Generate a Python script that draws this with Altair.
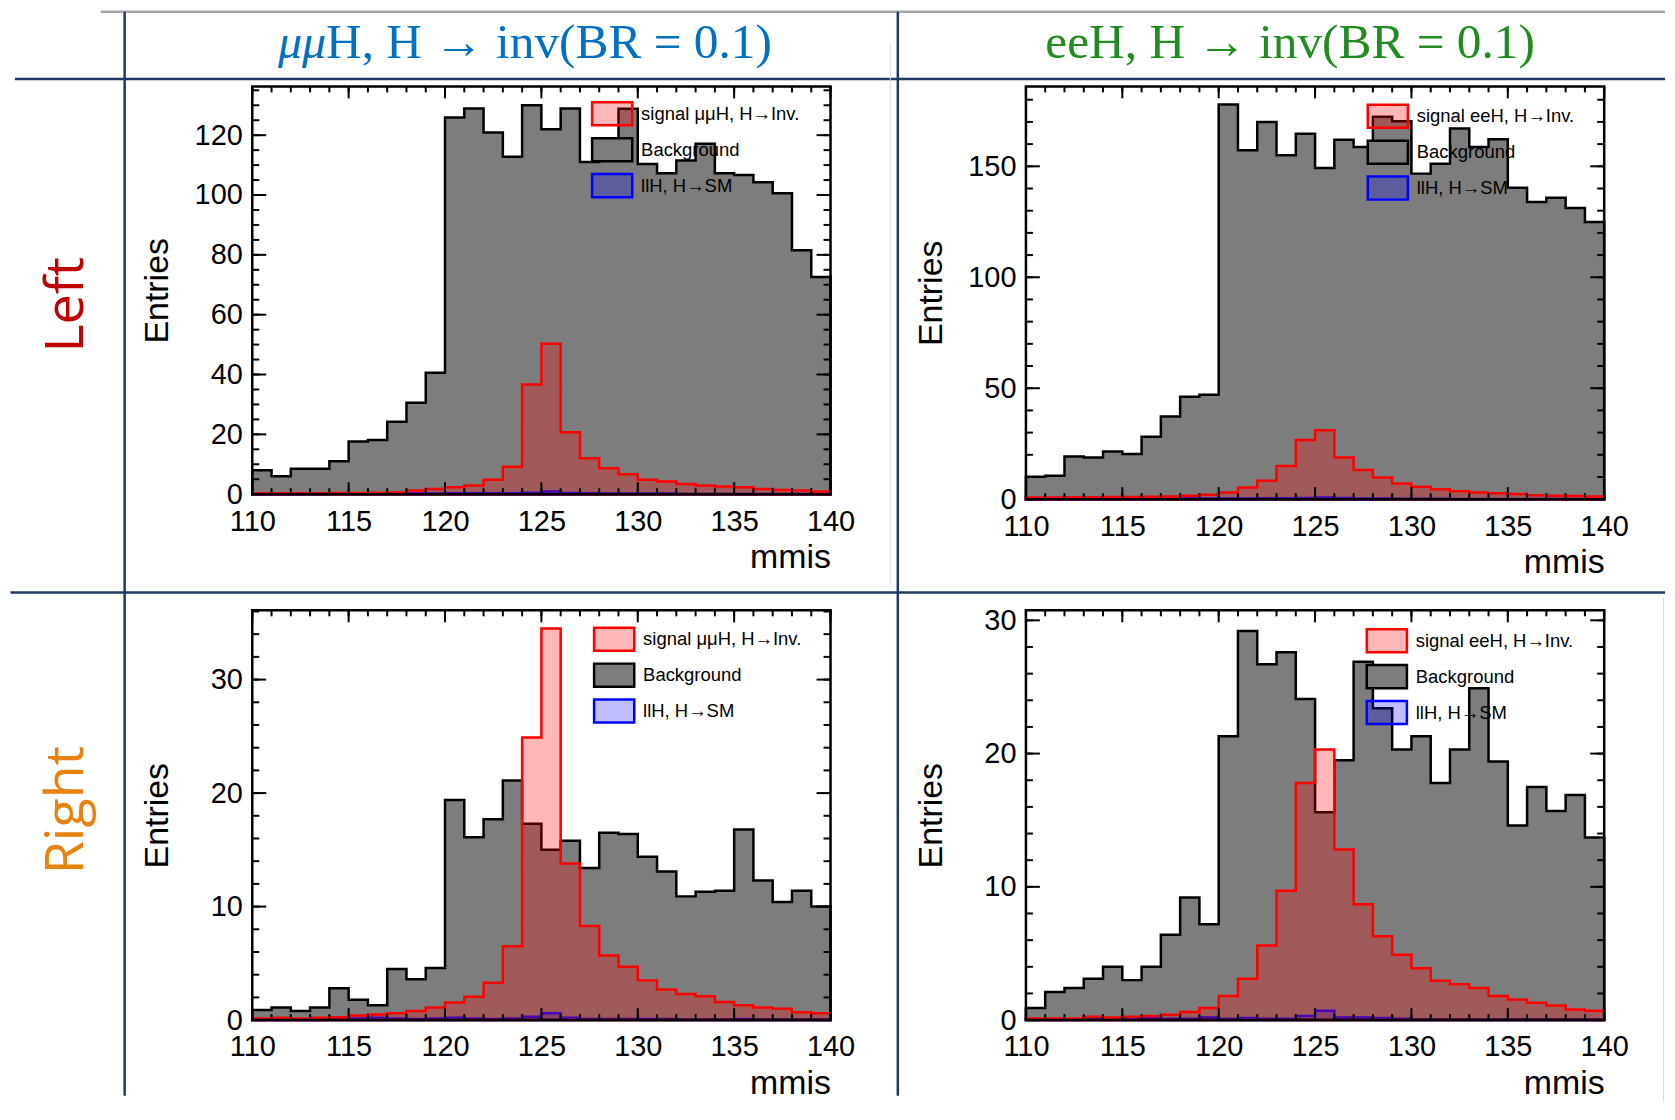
import altair as alt
import pandas as pd

# ---------------- data ----------------
edges = list(range(110, 141))           # 30 bins of 1 GeV, 31 edges
x_major = [110, 115, 120, 125, 130, 135, 140]
x_minor = list(range(110, 141))

LAB_BG = "Background"
LAB_LLH = "llH, H→SM"
LAB_SIG_MM = "signal μμH, H→Inv."
LAB_SIG_EE = "signal eeH, H→Inv."

# mumuH, Left
bg_mm_left = [8, 6, 8.5, 8.5, 11, 17.6, 18.1, 24.2, 30.6, 40.6,
              125.9, 128.9, 120.9, 112.8, 130, 122, 128.9, 111, 118.8, 128.8,
              110.4, 107.3, 111.5, 117.1, 107.3, 106.7, 104.3, 100.6, 81.5, 72.6]
sig_mm_left = [0.3, 0.3, 0.3, 0.3, 0.4, 0.4, 0.5, 0.6, 1.2, 1.7,
               2.3, 2.9, 4.8, 9.2, 36.7, 50.3, 20.7, 12.0, 8.7, 6.7,
               4.8, 4.2, 3.4, 2.9, 2.6, 2.3, 1.7, 1.4, 1.2, 0.9]
llh_mm_left = [0.1, 0.1, 0.1, 0.1, 0.1, 0.1, 0.1, 0.2, 0.2, 0.2,
               0.3, 0.3, 0.3, 0.3, 0.5, 0.9, 0.4, 0.3, 0.2, 0.2,
               0.2, 0.2, 0.1, 0.1, 0.1, 0.1, 0.1, 0.1, 0.1, 0.1]

# eeH, Left
bg_ee_left = [10.1, 10.5, 19.2, 18.8, 21.5, 20.4, 28.1, 37.2, 46.1, 47.1,
              177.8, 157.2, 170, 155, 164.7, 149.2, 162, 158.7, 172.3, 170.3,
              146.7, 151.2, 167, 158.7, 162.2, 140.3, 133.9, 135.8, 131.2, 124.9]
sig_ee_left = [0.8, 0.8, 0.9, 0.9, 1.0, 1.0, 1.1, 1.2, 1.5, 2.0,
               3.0, 5.3, 8.3, 15.0, 26.7, 31.1, 18.8, 13.1, 9.8, 7.1,
               5.6, 4.5, 3.6, 3.0, 2.7, 2.3, 1.8, 1.5, 1.4, 1.2]
llh_ee_left = [0.1, 0.1, 0.1, 0.1, 0.1, 0.2, 0.2, 0.2, 0.3, 0.3,
               0.3, 0.3, 0.4, 0.4, 0.5, 0.8, 0.5, 0.3, 0.3, 0.2,
               0.2, 0.2, 0.1, 0.1, 0.1, 0.1, 0.1, 0.1, 0.1, 0.1]

# mumuH, Right
bg_mm_right = [0.9, 1.1, 0.8, 1.1, 2.8, 1.8, 1.3, 4.5, 3.6, 4.6,
               19.4, 16.1, 17.7, 21.1, 17.3, 15.0, 15.8, 13.4, 16.5, 16.4,
               14.4, 13.1, 10.9, 11.3, 11.4, 16.8, 12.3, 10.4, 11.4, 10.0]
sig_mm_right = [0.15, 0.2, 0.15, 0.2, 0.25, 0.4, 0.5, 0.6, 0.8, 1.1,
                1.55, 2.05, 3.3, 6.5, 24.9, 34.5, 13.8, 8.3, 5.7, 4.7,
                3.5, 2.7, 2.3, 2.1, 1.6, 1.3, 1.1, 1.0, 0.7, 0.6]
llh_mm_right = [0.05, 0.05, 0.05, 0.1, 0.1, 0.15, 0.2, 0.15, 0.1, 0.15,
                0.2, 0.15, 0.1, 0.15, 0.3, 0.6, 0.2, 0.1, 0.1, 0.1,
                0.1, 0.1, 0.05, 0.05, 0.05, 0.1, 0.05, 0.05, 0.05, 0.05]

# eeH, Right
bg_ee_right = [0.9, 2.1, 2.4, 3.1, 4.0, 3.0, 4.0, 6.4, 9.2, 7.2,
               21.3, 29.2, 26.7, 27.6, 24.1, 15.6, 19.5, 26.9, 23.4, 20.3,
               21.3, 17.8, 20.3, 24.9, 19.4, 14.6, 17.5, 15.7, 16.9, 13.7]
sig_ee_right = [0.12, 0.12, 0.12, 0.25, 0.2, 0.25, 0.3, 0.4, 0.6, 0.9,
                1.8, 3.1, 5.6, 9.7, 17.8, 20.3, 12.8, 8.7, 6.3, 4.9,
                3.9, 2.95, 2.7, 2.4, 1.8, 1.55, 1.3, 1.1, 0.8, 0.7]
llh_ee_right = [0.05, 0.05, 0.05, 0.1, 0.1, 0.1, 0.15, 0.1, 0.1, 0.2,
                0.1, 0.15, 0.1, 0.1, 0.3, 0.7, 0.2, 0.2, 0.15, 0.1,
                0.05, 0.05, 0.05, 0.05, 0.05, 0.05, 0.05, 0.05, 0.05, 0.05]

# y-axis ticks per panel
y_major_a = [0, 20, 40, 60, 80, 100, 120]
y_minor_a = list(range(0, 136, 5))
y_major_b = [0, 50, 100, 150]
y_minor_b = list(range(0, 181, 10))
y_major_c = [0, 10, 20, 30]
y_minor_c = list(range(0, 37, 2))
y_major_d = [0, 10, 20, 30]
y_minor_d = list(range(0, 31, 2))

# ---------------- style ----------------
SANS = "Liberation Sans"
SERIF = "Liberation Serif"
NAVY = "#1F3864"
SYMBOL = "M-1.15,-0.66H1.15V0.66H-1.15Z"

deco = pd.DataFrame({"k": [0]})


def hist_frame(vals, label):
    return pd.DataFrame({"x": edges, "v": list(vals) + [vals[-1]], "s": label})


def panel(bg, sig, llh, sig_label, ymax, y_major, y_minor, W, H, legx, legy,
          extra=()):
    df = pd.concat([hist_frame(bg, LAB_BG), hist_frame(sig, sig_label),
                    hist_frame(llh, LAB_LLH)], ignore_index=True)
    domain = [sig_label, LAB_BG, LAB_LLH]
    xs = alt.Scale(domain=[110, 140], nice=False, zero=False)
    ys = alt.Scale(domain=[0, ymax], nice=False, zero=True)
    leg = alt.Legend(orient="none", legendX=legx, legendY=legy, title=None,
                     direction="vertical", symbolType=SYMBOL, symbolSize=1225,
                     symbolStrokeWidth=2.5, labelFont=SANS, labelFontSize=18.5,
                     labelColor="black", labelLimit=400, labelOffset=10,
                     rowPadding=0, padding=0)
    fill = alt.Fill("s:N", scale=alt.Scale(domain=domain, range=[
        "rgba(255,0,0,0.28)", "#7d7d7d", "rgba(0,0,255,0.25)"]), legend=leg)
    stroke = alt.Stroke("s:N", scale=alt.Scale(domain=domain, range=[
        "#ff0000", "#000000", "#0000ff"]), legend=leg)
    xaxis = alt.Axis(values=x_major, format="d", ticks=False,
                     domain=False, grid=False, labelFont=SANS, labelFontSize=29,
                     labelColor="black", labelPadding=13, labelOverlap=False,
                     labelFlush=False, title="mmis", titleFont=SANS,
                     titleFontSize=34, titleFontWeight="normal",
                     titleColor="black", titleX=W, titleY=64,
                     titleAlign="right", titleBaseline="middle")
    yaxis = alt.Axis(values=y_major, format="d", ticks=False,
                     domain=False, grid=False, labelFont=SANS, labelFontSize=29,
                     labelColor="black", labelPadding=10, labelOverlap=False,
                     labelFlush=False, title="Entries", titleFont=SANS,
                     titleFontSize=34, titleFontWeight="normal",
                     titleColor="black", titleX=-95, titleY=H / 2,
                     titleAngle=270, titleAlign="center",
                     titleBaseline="middle")
    base = alt.Chart(df)
    layers = []
    for lab in [LAB_BG, LAB_LLH, sig_label]:
        layers.append(
            base.transform_filter(alt.datum.s == lab)
            .mark_area(interpolate="step-after", strokeWidth=2.5,
                       strokeJoin="miter")
            .encode(x=alt.X("x:Q", scale=xs, axis=xaxis),
                    y=alt.Y("v:Q", scale=ys, axis=yaxis),
                    fill=fill, stroke=stroke))
    # ROOT style inward ticks on all four sides
    for vals, ln in ((x_minor, 6), (x_major, 12)):
        d = alt.Chart(pd.DataFrame({"t": vals})).mark_rule(color="black",
                                                           strokeWidth=2)
        layers.append(d.encode(x=alt.X("t:Q", scale=xs, axis=xaxis),
                               y=alt.value(H), y2=alt.value(H - ln)))
        layers.append(d.encode(x=alt.X("t:Q", scale=xs, axis=xaxis),
                               y=alt.value(0), y2=alt.value(ln)))
    for vals, ln in ((y_minor, 7), (y_major, 14)):
        d = alt.Chart(pd.DataFrame({"t": vals})).mark_rule(color="black",
                                                           strokeWidth=2)
        layers.append(d.encode(y=alt.Y("t:Q", scale=ys, axis=yaxis),
                               x=alt.value(0), x2=alt.value(ln)))
        layers.append(d.encode(y=alt.Y("t:Q", scale=ys, axis=yaxis),
                               x=alt.value(W), x2=alt.value(W - ln)))
    # frame
    layers.append(alt.Chart(deco).mark_rect(filled=False, stroke="black",
                                            strokeWidth=2.5).encode(
        x=alt.value(0), x2=alt.value(W), y=alt.value(0), y2=alt.value(H)))
    layers.extend(extra)
    return alt.layer(*layers).properties(width=W, height=H)


# ---------------- table decoration (positions relative to first panel) ----
def hline(y, x1, x2, color=NAVY, w=2.5):
    return alt.Chart(deco).mark_rule(color=color, strokeWidth=w).encode(
        x=alt.value(x1), x2=alt.value(x2), y=alt.value(y))


def vline(x, y1, y2, color=NAVY, w=2.5):
    return alt.Chart(deco).mark_rule(color=color, strokeWidth=w).encode(
        x=alt.value(x), y=alt.value(y1), y2=alt.value(y2))


def label(txt, x, y, **kw):
    return alt.Chart(deco).mark_text(text=txt, **kw).encode(
        x=alt.value(x), y=alt.value(y))


decor = [
    hline(-75, -152, 1417, color="#a6a6a6", w=2.5),
    hline(-7.5, -238, 1417),
    hline(507.5, -242.5, 1417),
    vline(-128, -75, 1012.5),
    vline(647.5, -75, 1012.5),
    vline(640, -42, 500, color="#d9d9d9", w=1),
    vline(1415.5, 513, 1018, color="#d9d9d9", w=1),
    label("μμ", 74, -29, font=SERIF, fontSize=48, fontStyle="italic",
          color="#0070C0", align="right", baseline="alphabetic"),
    label("H, H → inv(BR = 0.1)", 74, -29, font=SERIF, fontSize=49.5,
          color="#0070C0", align="left", baseline="alphabetic"),
    label("eeH, H → inv(BR = 0.1)", 1041, -29, font=SERIF, fontSize=49.5,
          color="#228B22", align="center", baseline="alphabetic"),
    label("Left", -186, 219, font="Open Sans", fontSize=54, angle=270,
          color="#C00000", align="center", baseline="middle"),
    label("Right", -186, 726, font="Open Sans", fontSize=54, angle=270,
          color="#E8820E", align="center", baseline="middle"),
]

tl = panel(bg_mm_left, sig_mm_left, llh_mm_left, LAB_SIG_MM, 136.3,
           y_major_a, y_minor_a, 580, 409, 342, 8.5, extra=decor)
tr = panel(bg_ee_left, sig_ee_left, llh_ee_left, LAB_SIG_EE, 186,
           y_major_b, y_minor_b, 580, 414, 344, 11)
bl = panel(bg_mm_right, sig_mm_right, llh_mm_right, LAB_SIG_MM, 36.1,
           y_major_c, y_minor_c, 580, 411, 344, 10)
br = panel(bg_ee_right, sig_ee_right, llh_ee_right, LAB_SIG_EE, 30.75,
           y_major_d, y_minor_d, 580, 411, 343, 11.5)

ind = dict(fill="independent", stroke="independent")
chart = (alt.concat(tl, tr, bl, br, columns=2,
                    spacing={"row": 111.5, "column": 196}, bounds="flush")
         .resolve_scale(**ind).resolve_legend(**ind)
         .properties(padding=0)
         .configure_view(strokeWidth=0)
         .configure(font=SANS))

chart.save("out.html", embed_options={"renderer": "svg", "actions": False})
